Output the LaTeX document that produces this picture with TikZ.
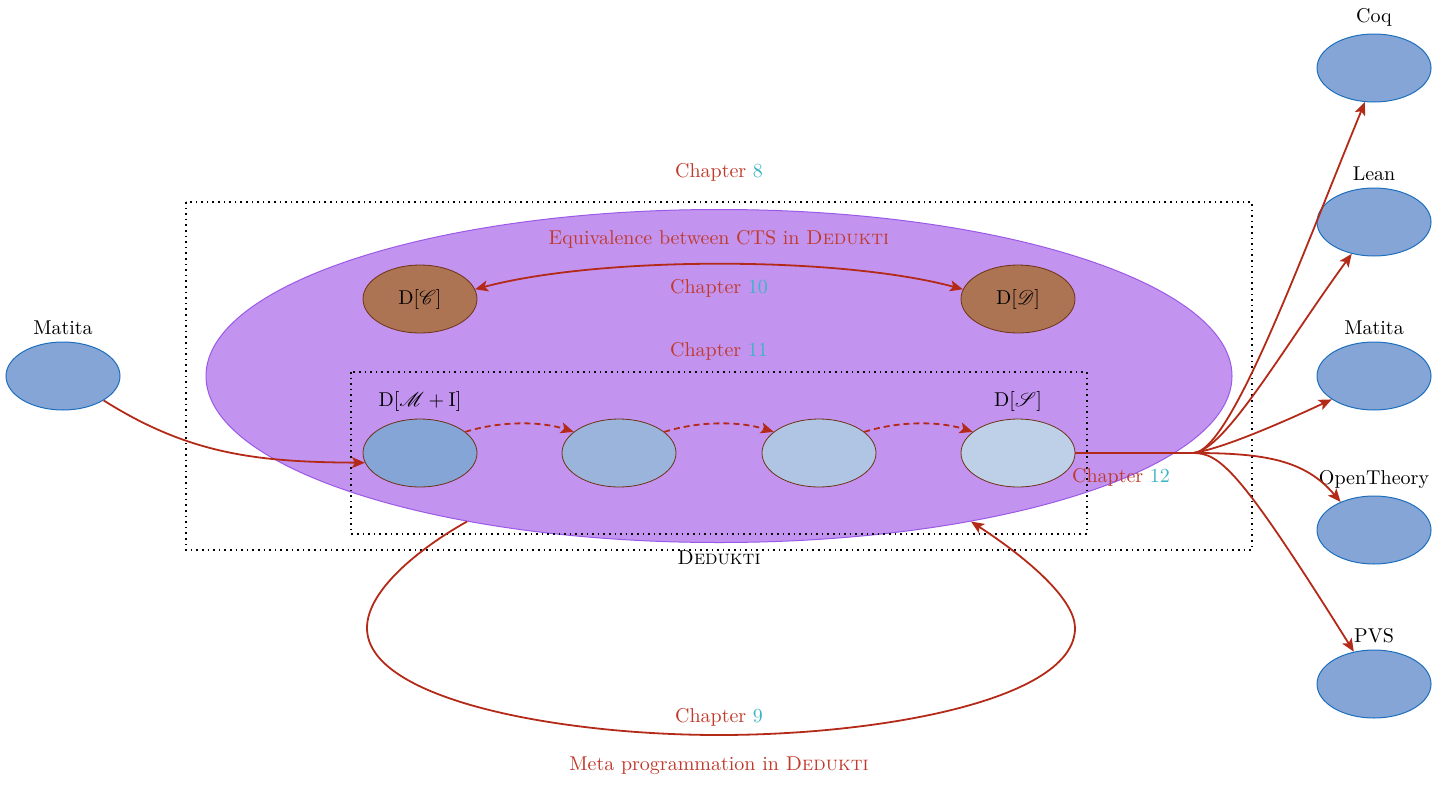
\documentclass[tikz,border=0pt]{standalone}
\usepackage{mathrsfs}
\usetikzlibrary{shapes.geometric,arrows.meta}
\definecolor{arr}{HTML}{B42A19}
\definecolor{chred}{HTML}{C0392B}
\definecolor{chcyan}{HTML}{3CB4C3}
\definecolor{purfill}{HTML}{C393F0}
\definecolor{purdraw}{HTML}{9B59E8}
\definecolor{brfill}{HTML}{AD7454}
\definecolor{brdraw}{HTML}{6E3214}
\definecolor{blfill}{HTML}{84A5D5}
\definecolor{bldraw}{HTML}{1E6EBE}
\definecolor{rowa}{HTML}{84A5D5}
\definecolor{rowb}{HTML}{9BB4DC}
\definecolor{rowc}{HTML}{B0C4E3}
\definecolor{rowd}{HTML}{BECFE8}
\newcommand\mychap[1]{\textcolor{chred}{Chapter} \textcolor{chcyan}{#1}}
\begin{document}
\begin{tikzpicture}[x=0.5pt,y=-0.5pt,
  sys/.style={ellipse,draw=bldraw,fill=blfill,minimum width=57pt,minimum height=34pt,inner sep=0pt,line width=0.5pt},
  dnode/.style={ellipse,draw=brdraw,fill=#1,minimum width=57pt,minimum height=34pt,inner sep=0pt,line width=0.4pt},
  redarr/.style={draw=arr,line width=0.9pt,-{Stealth[length=6.5pt,width=5.5pt,inset=1.5pt]}},
  dasharr/.style={redarr,dashed,dash pattern=on 3pt off 2pt},
  dotbox/.style={draw,line width=0.8pt,dotted},
  redtxt/.style={text=chred}
]
\useasboundingbox (0,0) rectangle (1439,787);

% big ellipse
\node[ellipse,draw=purdraw,fill=purfill,line width=0.5pt,minimum width=513pt,minimum height=166.5pt,inner sep=0pt] (big) at (719,376) {};
% boxes
\draw[dotbox] (351,372) rectangle (1087,534);
\draw[dotbox] (186,202) rectangle (1252,550);

% texts
\node (ch8) at (719,172) {\mychap{8}};
\node[redtxt] (eqv) at (719,239) {Equivalence between CTS in \textsc{Dedukti}};
\node (ch10) at (719,288) {\mychap{10}};
\node (ch11) at (719,351) {\mychap{11}};
\node (ch12) at (1121,477) {\mychap{12}};
\node (ch9) at (719,717) {\mychap{9}};
\node[redtxt] (meta) at (719,766) {Meta programmation in \textsc{Dedukti}};
\node (ded) at (719,558) {\textsc{Dedukti}};

% Dedukti nodes
\node[dnode=brfill] (dc) at (420,299) {D[$\mathscr{C}$]};
\node[dnode=brfill] (dd) at (1018,299) {D[$\mathscr{D}$]};
\node[dnode=rowa,label={above:D[$\mathscr{M}+\mathrm{I}$]}] (r1) at (420,453) {};
\node[dnode=rowb] (r2) at (619,453) {};
\node[dnode=rowc] (r3) at (819,453) {};
\node[dnode=rowd,label={above:D[$\mathscr{S}$]}] (r4) at (1018,453) {};

% systems
\node[sys,label={above:Matita}] (matl) at (63,376) {};
\node[sys,label={above:Coq}] (coq) at (1374,68) {};
\node[sys,label={above:Lean}] (lean) at (1374,222) {};
\node[sys,label={above:Matita}] (matr) at (1374,376) {};
\node[sys,label={above:OpenTheory}] (ot) at (1374,530) {};
\node[sys,label={above:PVS}] (pvs) at (1374,684) {};

% arrows
\draw[redarr,{Stealth[length=6.5pt,width=5.5pt,inset=1.5pt]}-{Stealth[length=6.5pt,width=5.5pt,inset=1.5pt]}]
  (dc.10) .. controls (600,256) and (840,256) .. (dd.170);
\draw[dasharr] (r1.25) .. controls (500,421) and (540,421) .. (r2.155);
\draw[dasharr] (r2.25) .. controls (699,421) and (739,421) .. (r3.155);
\draw[dasharr] (r3.25) .. controls (899,421) and (939,421) .. (r4.155);

\draw[redarr] (matl.-31) .. controls (190,455) and (259,462) .. (r1.190);

\coordinate (br) at (1193,453);
\draw[redarr] (r4.east) -- (br) .. controls (1230,453) and (1300,260) .. (coq.-105);
\draw[redarr] (r4.east) -- (br) .. controls (1225,451) and (1285,345) .. (lean.-125);
\draw[redarr] (r4.east) -- (br) .. controls (1215,450) and (1262,432) .. (matr.-151);
\draw[redarr] (r4.east) -- (br) .. controls (1265,453) and (1305,460) .. (ot.140);
\draw[redarr] (r4.east) -- (br) .. controls (1220,453) and (1240,470) .. (pvs.122);

\coordinate (lp) at (367,628);
\coordinate (bp) at (719,735);
\coordinate (rp) at (1075,628);
\draw[redarr] (big.-150) .. controls (420,548) and (367,590) .. (lp)
  .. controls (367,700) and (560,735) .. (bp)
  .. controls (880,735) and (1075,700) .. (rp)
  .. controls (1075,600) and (1030,560) .. (big.-30);
\end{tikzpicture}
\end{document}
